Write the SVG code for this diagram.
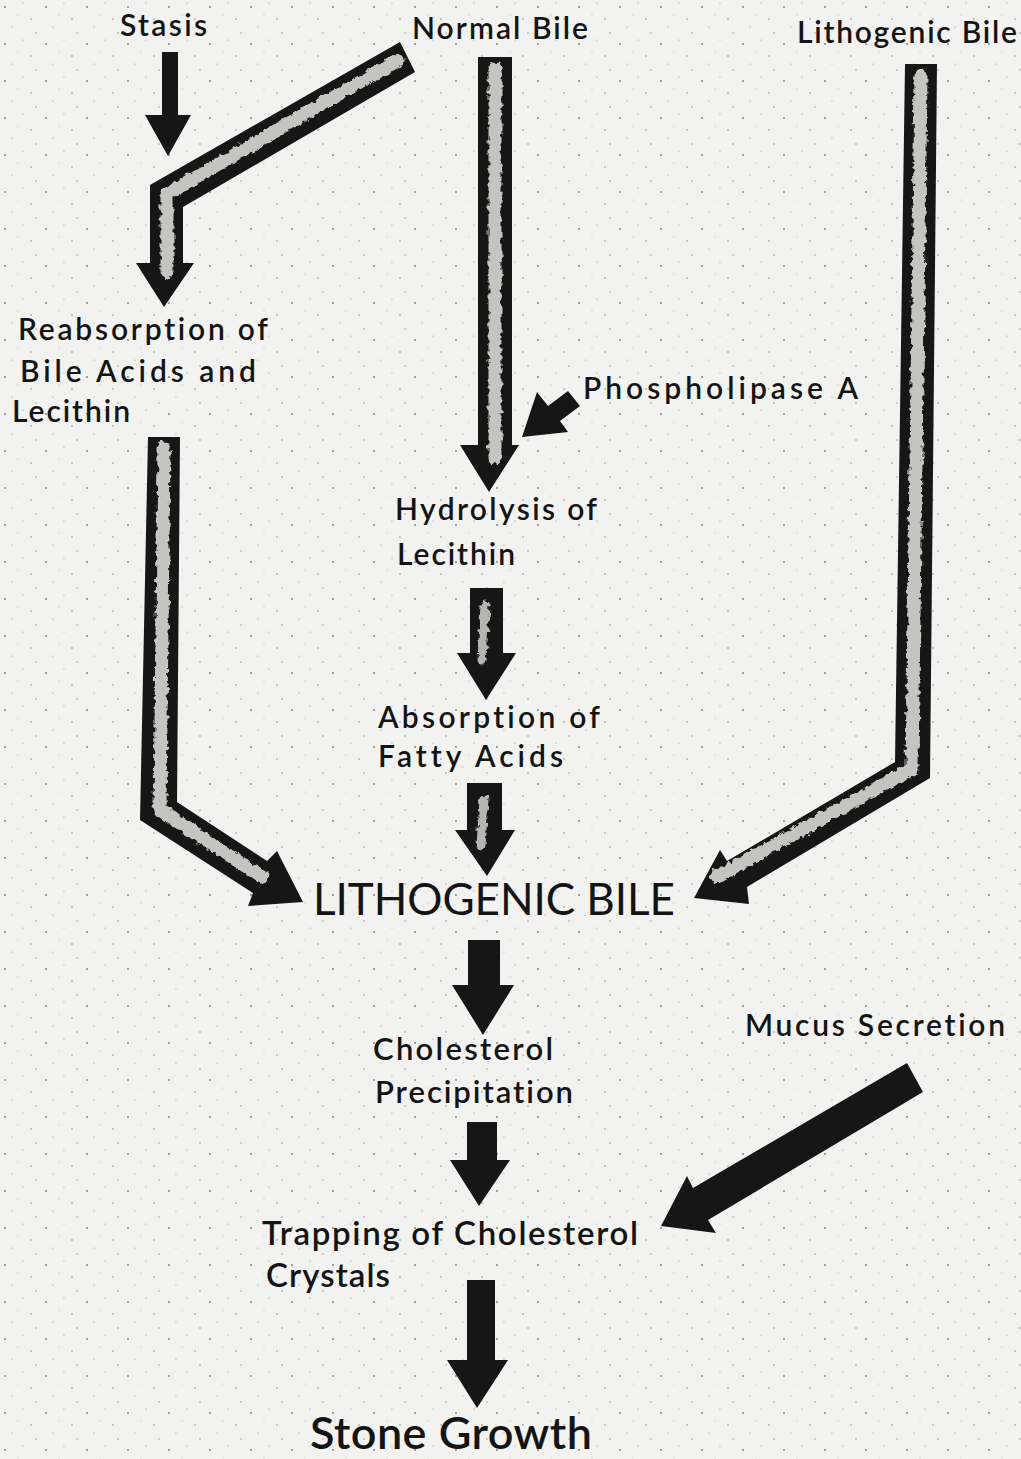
<svg xmlns="http://www.w3.org/2000/svg" width="1021" height="1459" viewBox="0 0 1021 1459">
<defs>
<pattern id="speck" width="41" height="37" patternUnits="userSpaceOnUse">
<circle cx="5" cy="7" r="0.9" fill="#777"/>
<circle cx="23" cy="3" r="0.6" fill="#999"/>
<circle cx="31" cy="19" r="0.8" fill="#888"/>
<circle cx="12" cy="27" r="0.6" fill="#999"/>
<circle cx="36" cy="33" r="0.7" fill="#888"/>
<circle cx="18" cy="15" r="0.5" fill="#aaa"/>
</pattern>
<filter id="rough" filterUnits="userSpaceOnUse" x="0" y="0" width="1021" height="1459">
<feTurbulence type="fractalNoise" baseFrequency="0.18" numOctaves="2" seed="3" result="n"/>
<feDisplacementMap in="SourceGraphic" in2="n" scale="7" xChannelSelector="R" yChannelSelector="G"/>
</filter>
<style>
text{font-variant-ligatures:none;font-feature-settings:"liga" 0,"clig" 0,"dlig" 0}
.lbl{font-family:"Lato","DejaVu Sans",sans-serif;font-size:30px;font-weight:600;fill:#141414}
.big{font-family:"Lato","DejaVu Sans",sans-serif;font-size:44px;font-weight:400;fill:#141414}
.arr{fill:#161616}
.stripe{fill:none;stroke:#c4c4c1;stroke-width:13;stroke-linejoin:round;stroke-linecap:round;filter:url(#rough)}
.stripe2{fill:none;stroke:#b5b5b2;stroke-width:9;stroke-linecap:round;filter:url(#rough)}
</style>
</defs>
<rect width="1021" height="1459" fill="#f2f2f0"/>
<rect width="1021" height="1459" fill="url(#speck)"/>

<g id="connectors">
<polygon class="arr" points="162,52 178,52 178,115 191,115 168,156 145,115 162,115"/>
<g id="arrow-normal-reabsorption">
<polygon class="arr" points="400,42 415,72 183,207 183,263 194,263 164,307 136,263 150,263 150,185"/>
<polyline class="stripe" points="398,60 167,194 167,272"/>
</g>
<g id="arrow-normal-hydrolysis">
<polygon class="arr" points="478,57 512,57 512,445 519,445 489,492 460,445 478,445"/>
<polyline class="stripe" points="495,68 495,458"/>
</g>
<polygon class="arr" points="568,391 580,406 560,421 568,432 522,437 537,392 548,406"/>
<g id="arrow-lithobile-lithogenic">
<polygon class="arr" points="905,64 937,64 930,778 747,887 749,904 694,898 720,850 727,861 895,762"/>
<polyline class="stripe" points="921,76 912,769 716,877"/>
</g>
<g id="arrow-reabsorption-lithogenic">
<polygon class="arr" points="148,437 140,820 253,893 248,906 303,902 277,851 267,861 177,802 180,437"/>
<polyline class="stripe" points="164,448 160,810 262,877"/>
</g>
<g id="arrow-hydrolysis-absorption">
<polygon class="arr" points="470,588 503,588 503,653 516,653 486,700 457,653 470,653"/>
<polyline class="stripe2" points="485,605 482,660"/>
</g>
<g id="arrow-absorption-lithogenic">
<polygon class="arr" points="467,783 502,783 502,830 515,830 487,876 455,830 467,830"/>
<polyline class="stripe2" points="484,800 481,845"/>
</g>
<polygon class="arr" points="468,940 500,940 500,985 514,985 483,1035 452,985 468,985"/>
<polygon class="arr" points="467,1122 497,1122 497,1160 510,1160 479,1206 450,1160 467,1160"/>
<polygon class="arr" points="907,1063 923,1092 708,1220 716,1233 661,1226 687,1176 693,1188"/>
<polygon class="arr" points="467,1280 495,1280 495,1360 508,1360 477,1408 447,1360 467,1360"/>
</g>

<g id="node-stasis"><text class="lbl" x="120" y="36" textLength="87" lengthAdjust="spacing">Stasis</text></g>
<g id="node-normal-bile"><text class="lbl" x="412" y="39" textLength="176" lengthAdjust="spacing">Normal Bile</text></g>
<g id="node-lithogenic-bile-top"><text class="lbl" x="797" y="43" textLength="220" lengthAdjust="spacing">Lithogenic Bile</text></g>
<g id="node-reabsorption">
<text class="lbl" x="18" y="340" textLength="250" lengthAdjust="spacing">Reabsorption of</text>
<text class="lbl" x="20" y="382" textLength="236" lengthAdjust="spacing">Bile Acids and</text>
<text class="lbl" x="12" y="422" textLength="118" lengthAdjust="spacing">Lecithin</text>
</g>
<g id="node-phospholipase"><text class="lbl" x="583" y="399" textLength="275" lengthAdjust="spacing">Phospholipase  A</text></g>
<g id="node-hydrolysis">
<text class="lbl" x="395" y="520" textLength="202" lengthAdjust="spacing">Hydrolysis of</text>
<text class="lbl" x="397" y="565" textLength="118" lengthAdjust="spacing">Lecithin</text>
</g>
<g id="node-absorption">
<text class="lbl" x="378" y="728" textLength="222" lengthAdjust="spacing">Absorption of</text>
<text class="lbl" x="378" y="767" textLength="185" lengthAdjust="spacing">Fatty  Acids</text>
</g>
<g id="node-lithogenic"><text class="big" x="313" y="915" textLength="362" lengthAdjust="spacing">LITHOGENIC BILE</text></g>
<g id="node-cholesterol">
<text class="lbl" x="373" y="1060" textLength="180" lengthAdjust="spacing" style="font-size:31px">Cholesterol</text>
<text class="lbl" x="375" y="1103" textLength="198" lengthAdjust="spacing" style="font-size:31px">Precipitation</text>
</g>
<g id="node-mucus"><text class="lbl" x="745" y="1036" textLength="260" lengthAdjust="spacing">Mucus Secretion</text></g>
<g id="node-trapping">
<text class="lbl" x="262" y="1245" textLength="376" lengthAdjust="spacing" style="font-size:33px">Trapping of Cholesterol</text>
<text class="lbl" x="266" y="1287" textLength="124" lengthAdjust="spacing" style="font-size:33px">Crystals</text>
</g>
<g id="node-stone"><text class="big" x="310" y="1449" textLength="282" lengthAdjust="spacing" style="font-size:45px;font-weight:600">Stone  Growth</text></g>
</svg>
